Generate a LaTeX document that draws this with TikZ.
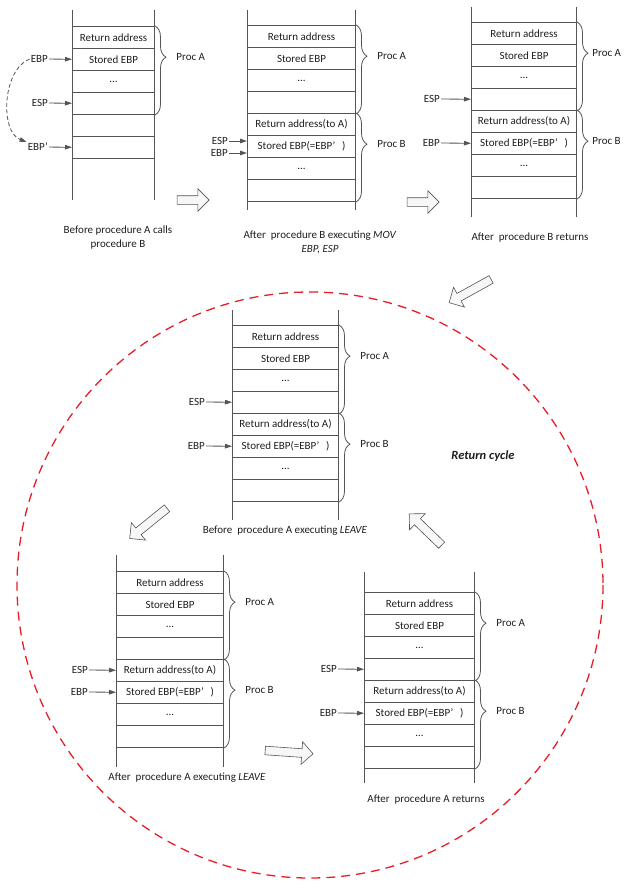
\documentclass[tikz,border=0pt]{standalone}
\usepackage{fontspec}
\setmainfont{Carlito}
\usetikzlibrary{arrows.meta,decorations.pathreplacing,shapes.arrows,calc}

\definecolor{ln}{RGB}{85,85,85}
\definecolor{tx}{RGB}{30,30,30}
\definecolor{cyc}{RGB}{232,30,38}
\newcommand\myfs{\fontsize{11}{14}\selectfont}

\tikzset{
  cell/.style={draw=ln, line width=1pt, rectangle, minimum height=22pt, anchor=north west, inner sep=0pt, text=tx, font=\myfs},
  vline/.style={draw=ln, line width=0.8pt},
  ptrlabel/.style={anchor=east, inner sep=1pt, text=tx, font=\myfs},
  ptr/.style={draw=ln, line width=0.8pt, -{Triangle[length=7pt,width=4.5pt]}},
  procbrace/.style={draw=ln, line width=0.8pt, decorate, decoration={brace, amplitude=11pt, aspect=0.35}},
  proclabel/.style={anchor=west, inner sep=1pt, font=\myfs, text=tx, xshift=20pt},
  capt/.style={align=center, font=\myfs, text=tx, inner sep=0pt},
  blockarr/.style={single arrow, draw=ln, fill=gray!6, line width=0.6pt, inner sep=4pt, single arrow head extend=7pt, minimum height=#1},
  cyclecircle/.style={draw=cyc, line width=1.3pt, dash pattern=on 9pt off 6pt},
  edgelabel/.style={xshift=-6pt},
}

% #1 name, #2 left x, #3 top y of cells, #4 width, #5 line top, #6 line bottom, #7 extra label options
\newcommand\stackeight[7]{%
  \draw[vline] (#2,#5) -- (#2,#6);
  \draw[vline] (#2+#4,#5) -- (#2+#4,#6);
  \node[cell,minimum width=#4] (#1c1) at (#2,#3) {Return address};
  \node[cell,minimum width=#4] (#1c2) at (#2,#3+22) {Stored EBP};
  \node[cell,minimum width=#4] (#1c3) at (#2,#3+44) {...};
  \node[cell,minimum width=#4] (#1c4) at (#2,#3+66) {};
  \node[cell,minimum width=#4] (#1c5) at (#2,#3+88) {Return address(to A)};
  \node[cell,minimum width=#4] (#1c6) at (#2,#3+110) {Stored EBP(=EBP’\hspace{0.6em})};
  \node[cell,minimum width=#4] (#1c7) at (#2,#3+132) {...};
  \node[cell,minimum width=#4] (#1c8) at (#2,#3+154) {};
  \draw[procbrace] (#1c1.north east) -- (#1c4.south east) node[proclabel,pos=0.35,#7] (#1pa) {Proc A};
  \draw[procbrace] (#1c5.north east) -- (#1c8.south east) node[proclabel,pos=0.35,#7] (#1pb) {Proc B};
}

\begin{document}
\begin{tikzpicture}[x=1pt,y=-1pt]
\useasboundingbox (0,0) rectangle (624,881);

% ---------- stack 1 ----------
\draw[vline] (72,10) -- (72,200);
\draw[vline] (154,10) -- (154,200);
\node[cell,minimum width=82] (s1c1) at (72,26) {Return address};
\node[cell,minimum width=82] (s1c2) at (72,48) {Stored EBP};
\node[cell,minimum width=82] (s1c3) at (72,70) {...};
\node[cell,minimum width=82] (s1c4) at (72,92) {};
\node[cell,minimum width=82] (s1c5) at (72,114) {};
\node[cell,minimum width=82] (s1c6) at (72,136) {};
\draw[procbrace] (s1c1.north east) -- (s1c4.south east) node[proclabel,pos=0.35] (s1pa) {Proc A};
\node[ptrlabel] (s1ebp) at (49,59) {EBP};
\node[ptrlabel] (s1esp) at (49,103) {ESP};
\node[ptrlabel] (s1ebpp) at (49,147) {EBP’};
\draw[ptr] (s1ebp) -- (s1c2);
\draw[ptr] (s1esp) -- (s1c4);
\draw[ptr] (s1ebpp) -- (s1c6);
\draw[ptr, dash pattern=on 4pt off 2.5pt] (s1ebp.west) .. controls (2,70) and (0,132) .. (s1ebpp.north west);
\node[capt] (cap1) at (118,238) {Before procedure A calls\\procedure B};

% ---------- stack 2 ----------
\stackeight{s2}{247}{25}{108}{10}{210}{}
\node[ptrlabel] (s2esp) at (229,141) {ESP};
\node[ptrlabel] (s2ebp) at (229,153) {EBP};
\draw[ptr] (s2esp.east) -- (s2esp.east -| s2c6.west);
\draw[ptr] (s2ebp.east) -- (s2ebp.east -| s2c6.west);
\node[capt] (cap2) at (320,242) {After\ \ procedure B executing \textit{MOV}\\\textit{EBP, ESP}};

% ---------- stack 3 ----------
\stackeight{s3}{471}{22}{105}{7}{217}{edgelabel}
\node[ptrlabel] (s3esp) at (441,99) {ESP};
\node[ptrlabel] (s3ebp) at (441,143) {EBP};
\draw[ptr] (s3esp) -- (s3c4);
\draw[ptr] (s3ebp) -- (s3c6);
\node[capt] (cap3) at (530,238) {After\ \ procedure B returns};

% ---------- middle stack ----------
\stackeight{sm}{232}{325}{106}{310}{520}{}
\node[ptrlabel] (smesp) at (206,402) {ESP};
\node[ptrlabel] (smebp) at (206,446) {EBP};
\draw[ptr] (smesp) -- (smc4);
\draw[ptr] (smebp) -- (smc6);
\node[capt] (cap4) at (285,531) {Before\ \ procedure A executing \textit{LEAVE}};

% ---------- bottom-left stack ----------
\stackeight{sl}{116}{571}{107}{555}{767}{}
\node[ptrlabel] (slesp) at (89,670) {ESP};
\node[ptrlabel] (slebp) at (89,692) {EBP};
\draw[ptr] (slesp) -- (slc5);
\draw[ptr] (slebp) -- (slc6);
\node[capt] (cap5) at (187,778) {After\ \ procedure A executing \textit{LEAVE}};

% ---------- bottom-right stack ----------
\stackeight{sr}{364}{592}{110}{572}{783}{}
\node[ptrlabel] (sresp) at (338,669) {ESP};
\node[ptrlabel] (srebp) at (338,713) {EBP};
\draw[ptr] (sresp) -- (src4);
\draw[ptr] (srebp) -- (src6);
\node[capt] (cap6) at (426,800) {After\ \ procedure A returns};

% ---------- return cycle ----------
\draw[cyclecircle] (310,585) circle[radius=293];
\node[font=\bfseries\itshape\fontsize{12.5}{14}\selectfont, text=tx] (rc) at (483,456) {Return cycle};

% ---------- block arrows ----------
\node[blockarr=32pt] (ba1) at (191,200) {};
\node[blockarr=32pt] (ba2) at (421,202) {};
\node[blockarr=48pt, rotate=209] (ba3) at (472,290) {};
\node[blockarr=48pt, rotate=219] (ba4) at (150,522) {};
\node[blockarr=48pt, rotate=-4] (ba5) at (287,752) {};
\node[blockarr=45pt, rotate=136] (ba6) at (427,531) {};
\end{tikzpicture}
\end{document}
